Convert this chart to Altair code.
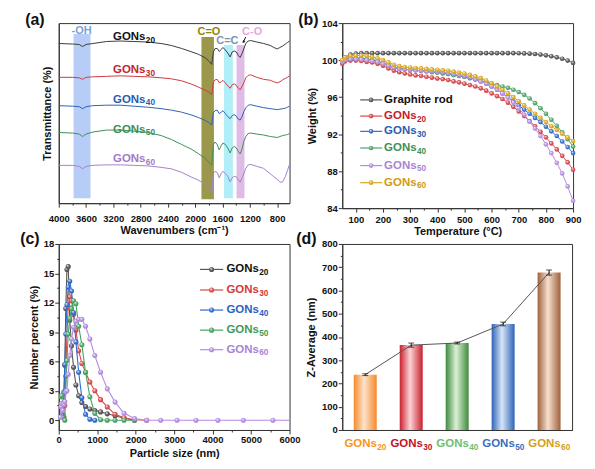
import altair as alt
import pandas as pd

FONT = "Liberation Sans"
INK = "#111111"

# ======================= (a) FTIR =======================
ftir_wn = [4000, 3800, 3700, 3650, 3600, 3500, 3300, 3100, 2900, 2700,
           2500, 2350, 2200, 2050, 1950, 1850, 1790, 1760, 1735, 1710,
           1680, 1650, 1620, 1595, 1560, 1525, 1490, 1460, 1430, 1400,
           1370, 1343, 1315, 1290, 1260, 1225, 1190, 1100, 1000, 900,
           850, 800, 760, 720, 680, 650, 620]
# offset transmittance (a.u., larger = lower on the plot)
ftir_g20 = [41.5, 42, 42.5, 44.5, 42.5, 41.5, 39.5, 39, 39.5, 40,
            41.5, 43.5, 46.5, 50, 52.5, 56, 60, 62.5, 50, 46.5,
            46.5, 49.5, 47.5, 45.5, 48, 51, 55, 50, 49, 50,
            53.5, 55.5, 51.5, 47, 41.5, 39, 38.5, 40, 41.5, 43.5,
            45.5, 47, 45.5, 44, 42, 40.5, 39]
ftir_g30 = [75.5, 75.5, 76, 77.5, 75.5, 75, 74.5, 74, 74.5, 75,
            76, 77, 79, 82.5, 85.5, 88.5, 91, 93, 80, 78,
            77.5, 81, 80, 78.5, 81, 84, 86.5, 83, 82, 83.5,
            86.5, 88, 84.5, 81, 76, 73.5, 73, 75.5, 77.5, 78.5,
            80, 81, 80, 78, 76.5, 75.5, 74]
ftir_g40 = [104, 104.5, 105, 107, 105, 104, 103.5, 103.5, 104.5, 105.5,
            107, 108.5, 110.5, 113.5, 116, 119, 121.5, 123.5, 111, 109,
            108.5, 112, 110.5, 109, 112, 115, 117, 114, 113, 114.5,
            117.5, 118.5, 115, 110, 106, 103.5, 103, 104.5, 106, 107,
            107.5, 108, 107.5, 107, 106.5, 105.5, 104.5]
ftir_g50 = [131, 131.5, 132.5, 135, 132.5, 130.5, 128.5, 128.5, 129.5, 131,
            134, 138, 143, 148, 152.5, 157, 162, 164, 143, 140.5,
            143, 148.5, 144, 141.5, 143, 146.5, 151.5, 146.5, 145, 146.5,
            150, 152.5, 147.5, 140, 135, 132, 131.5, 132.5, 133.5, 135,
            135.5, 136, 135, 134, 133.5, 133, 132]
ftir_g60 = [164, 164, 165, 167.5, 165, 164, 163.5, 163.5, 164, 164.5,
            166, 167.5, 171, 176, 179, 183, 188, 191.5, 172, 170,
            171, 176.5, 172, 170, 172, 175, 180.5, 176.5, 175, 175.5,
            178.5, 181, 176.5, 172.5, 167, 163.5, 163, 165, 167, 172.5,
            175.5, 178, 181, 180.5, 175, 169, 163]
ftir_names = ["GONs20", "GONs30", "GONs40", "GONs50", "GONs60"]
ftir_subs = ["20", "30", "40", "50", "60"]
ftir_colors = ["#3b3b3b", "#cf3a3f", "#2e62b5", "#3f9057", "#a581cc"]
ftir_text_colors = ["#111111", "#c0262e", "#2a5db0", "#3e9058", "#9f7bc9"]
ftir_label_y = [35, 68, 98, 128, 158]
ftir_label_wn = [2900, 2900, 2900, 2900, 2900]

band_names = ["-OH", "C=O", "C=C", "C-O"]
band_lo = [3535, 1727, 1450, 1280]
band_hi = [3782, 1910, 1580, 1396]
band_top = [32, 35, 43, 43]
band_bot = [197, 198, 197, 197]
band_fill = ["#aac3f4", "#8a862c", "#a3ebf7", "#d8b0e0"]
band_text_wn = [3665, 1800, 1530, 1168]
band_text_y = [28.5, 29.5, 38.5, 30]
band_text_color = ["#7d9fd8", "#8d8512", "#7e93ad", "#eaa6dc"]

# ======================= (b) TGA =======================
tga_temp = [50, 60, 80, 100, 120, 140, 160, 180, 200, 220, 240, 260, 280, 300,
            320, 340, 360, 380, 400, 420, 440, 460, 480, 500, 520, 540, 560, 580,
            600, 620, 640, 660, 680, 700, 720, 740, 760, 780, 800, 820, 840, 860,
            880, 900]
tga_graphite = [99.8, 100.3, 100.6, 100.7, 100.75, 100.75, 100.75, 100.75, 100.75, 100.75,
                100.75, 100.75, 100.75, 100.75, 100.75, 100.75, 100.75, 100.75, 100.75, 100.75,
                100.75, 100.75, 100.75, 100.75, 100.75, 100.75, 100.75, 100.75, 100.75, 100.75,
                100.75, 100.75, 100.75, 100.74, 100.72, 100.7, 100.66, 100.6, 100.52, 100.42,
                100.3, 100.15, 99.95, 99.7]
tga_g20 = [99.6, 99.85, 99.95, 99.95, 99.9, 99.8, 99.75, 99.6, 99.4, 99.1,
           98.85, 98.7, 98.55, 98.45, 98.35, 98.3, 98.2, 98.1, 98.0, 97.95,
           97.85, 97.7, 97.6, 97.45, 97.3, 97.15, 96.95, 96.7, 96.4, 96.1,
           95.8, 95.4, 94.95, 94.45, 93.95, 93.4, 92.85, 92.25, 91.65, 91.0,
           90.35, 89.65, 88.95, 88.15]
tga_g30 = [99.8, 100.0, 100.1, 100.15, 100.1, 100.05, 100.0, 99.85, 99.65, 99.4,
           99.2, 99.1, 99.0, 98.95, 98.9, 98.85, 98.8, 98.75, 98.7, 98.6,
           98.5, 98.4, 98.3, 98.2, 98.05, 97.9, 97.7, 97.45, 97.15, 96.8,
           96.4, 96.0, 95.55, 95.1, 94.65, 94.2, 93.75, 93.3, 92.8, 92.3,
           91.8, 91.2, 90.6, 89.95]
tga_g40 = [99.9, 100.1, 100.2, 100.25, 100.2, 100.15, 100.05, 99.9, 99.7, 99.45,
           99.25, 99.1, 99.0, 98.95, 98.9, 98.85, 98.8, 98.7, 98.65, 98.55,
           98.5, 98.4, 98.3, 98.2, 98.1, 97.95, 97.8, 97.6, 97.45, 97.3,
           97.15, 97.0, 96.8, 96.55, 96.25, 95.85, 95.35, 94.8, 94.2, 93.55,
           92.9, 92.2, 91.45, 90.65]
tga_g50 = [99.8, 100.0, 100.1, 100.1, 100.05, 100.0, 99.9, 99.8, 99.6, 99.4,
           99.2, 99.05, 99.0, 98.95, 98.9, 98.85, 98.8, 98.8, 98.75, 98.7,
           98.6, 98.5, 98.4, 98.3, 98.15, 97.95, 97.7, 97.45, 97.15, 96.8,
           96.4, 95.95, 95.4, 94.8, 94.1, 93.35, 92.6, 91.8, 90.9, 89.95,
           88.9, 87.75, 86.35, 84.8]
tga_g60 = [100.0, 100.3, 100.45, 100.5, 100.5, 100.45, 100.35, 100.2, 100.0, 99.75,
           99.5, 99.35, 99.25, 99.2, 99.15, 99.1, 99.05, 99.0, 98.95, 98.9,
           98.85, 98.75, 98.65, 98.55, 98.4, 98.25, 98.05, 97.8, 97.5, 97.15,
           96.8, 96.4, 96.0, 95.55, 95.1, 94.65, 94.2, 93.75, 93.3, 92.85,
           92.45, 92.05, 91.65, 91.25]
tga_names = ["Graphite rod", "GONs20", "GONs30", "GONs40", "GONs50", "GONs60"]
tga_subs = ["", "20", "30", "40", "50", "60"]
tga_colors = ["#555555", "#d6474a", "#2f6ccc", "#4fa36a", "#b58ce2", "#d7a51f"]
tga_text_colors = ["#111111", "#c8202a", "#2a5db0", "#3e9058", "#a984d6", "#d09a12"]
tga_leg_y = [95.7, 93.95, 92.3, 90.5, 88.6, 86.75]

# ======================= (c) DLS =======================
c20_x = [117, 136, 158, 183, 213, 247, 286, 332, 385, 447, 518, 601, 697, 809, 938, 1088, 1262, 1464, 1698, 1970]
c20_y = [0.5, 2.9, 5.6, 11.4, 15.4, 15.7, 10.2, 7.6, 5.4, 3.6, 2.5, 1.8, 1.4, 1.15, 1.0, 0.85, 0.65, 0.45, 0.2, 0.0]
c30_x = [136, 158, 183, 213, 247, 286, 332, 385, 447, 518, 601, 697, 809, 938, 1088, 1262, 1464, 1698, 1970, 2285]
c30_y = [0.3, 1.5, 4.5, 8.8, 11.6, 12.6, 12.2, 10.8, 9.2, 7.1, 5.8, 4.9, 3.9, 3.0, 2.1, 1.35, 0.6, 0.25, 0.05, 0.0]
c40_x = [117, 136, 158, 183, 213, 247, 286, 332, 385, 447, 518, 601, 697, 809, 938]
c40_y = [0.3, 2.8, 5.7, 8.8, 11.8, 13.6, 14.2, 13.2, 11.0, 8.0, 4.9, 2.3, 0.6, 0.1, 0.0]
c50_x = [41, 75, 158, 183, 213, 247, 286, 332, 385, 447, 518, 601, 697, 809, 938, 1088, 1262, 1464, 1698, 1970]
c50_y = [2.4, 2.5, 0.0, 3.0, 6.1, 8.8, 10.4, 11.4, 12.2, 11.9, 9.6, 7.7, 4.9, 2.4, 0.7, 0.05, 0.0, 0.0, 0.0, 0.0]
c60_x = [41, 56, 75, 101, 117, 136, 158, 183, 213, 247, 286, 332, 385, 447, 518, 601, 697, 809, 938, 1088,
         1262, 1464, 1698, 1970, 2285, 2651, 3075, 3567, 4138, 4800, 5568, 6460]
c60_y = [0.3, 1.4, 1.7, 1.0, 1.7, 1.6, 1.9, 2.9, 3.0, 4.7, 6.6, 8.3, 9.5, 10.1, 10.3, 10.3, 9.6, 8.3, 6.6, 4.9,
         3.2, 1.85, 0.7, 0.17, 0.0, 0.0, 0.0, 0.0, 0.0, 0.0, 0.0, 0.0]
dls_names = ["GONs20", "GONs30", "GONs40", "GONs50", "GONs60"]
dls_subs = ["20", "30", "40", "50", "60"]
dls_colors = ["#555555", "#d64a4a", "#2d6bd0", "#47a262", "#b48ae0"]
dls_text_colors = ["#111111", "#d23a3a", "#2a62c4", "#3e9a5a", "#a984d6"]
dls_leg_y = [15.4, 13.3, 11.25, 9.2, 7.2]

# ======================= (d) Z-average =======================
z_names = ["GONs20", "GONs30", "GONs40", "GONs50", "GONs60"]
z_subs = ["20", "30", "40", "50", "60"]
z_values = [238, 365, 374, 456, 677]
z_errors = [4, 9, 4, 8, 11]
z_edge = ["#f58a2a", "#c8202c", "#3d8a3b", "#2e64b8", "#a0603a"]
z_center = ["#fde3cc", "#fbd3d6", "#dcf0d6", "#d7e5f7", "#f6dfcf"]
z_label_colors = ["#f7941d", "#c1121f", "#6cc070", "#3a6fc0", "#d4a020"]

# Liberation Sans Bold advance widths (em) for "GONs" and digits
GONS_EM = 0.778 + 0.778 + 0.722 + 0.556
DIGIT_EM = 0.556


def sphere(col):
    return {"gradient": "radial", "x1": 0.35, "y1": 0.3, "r1": 0.0,
            "x2": 0.5, "y2": 0.5, "r2": 0.6,
            "stops": [{"offset": 0, "color": "#ffffff"},
                      {"offset": 0.55, "color": col},
                      {"offset": 1, "color": col}]}


def minor_size(test):
    return {"condition": {"test": test, "value": 2}, "value": 4}


def panel_label(txt, dx, dy):
    return alt.Chart(pd.DataFrame({"t": [txt]})).mark_text(
        font=FONT, fontSize=16, fontWeight="bold", color=INK,
        align="center", baseline="middle").encode(
        x=alt.value(dx), y=alt.value(dy), text="t:N")


def gons_layers(df, xenc, yenc, fs, centered):
    """'GONs' + subscript number, as two real text marks."""
    sfs = round(fs * 0.72, 1)
    w_base = GONS_EM * fs
    w_sub = 2 * DIGIT_EM * sfs
    start = -(w_base + w_sub) / 2 if centered else 0
    col = alt.Color("c:N", scale=None)
    base = alt.Chart(df).mark_text(font=FONT, fontSize=fs, fontWeight="bold", align="left",
                                   baseline="middle", dx=start).encode(
        x=xenc, y=yenc, text="base:N", color=col)
    sub = alt.Chart(df).mark_text(font=FONT, fontSize=sfs, fontWeight="bold", align="left",
                                  baseline="middle", dx=start + w_base + 0.4, dy=round(fs * 0.33, 1)).encode(
        x=xenc, y=yenc, text="sub:N", color=col)
    return [base, sub]


# ---------------- panel (a) ----------------
WA, HA = 232, 181
xa_scale = alt.Scale(domain=[620, 4000], reverse=True, nice=False, zero=False)
ya_scale = alt.Scale(domain=[21, 202], reverse=True, nice=False, zero=False)
xa_axis = alt.Axis(values=[4000, 3800, 3600, 3400, 3200, 3000, 2800, 2600, 2400, 2200, 2000,
                           1800, 1600, 1400, 1200, 1000, 800],
                   labelExpr="datum.value % 400 == 0 ? datum.label : ''",
                   tickSize=minor_size("datum.value % 400 != 0"),
                   format="d", title="Wavenumbers (cm⁻¹)", labelPadding=6, titlePadding=2)
ya_axis = alt.Axis(title="Transmittance (%)", labels=False, ticks=False, titlePadding=6)


def XA(f):
    return alt.X(f, type="quantitative", scale=xa_scale, axis=xa_axis)


def YA(f):
    return alt.Y(f, type="quantitative", scale=ya_scale, axis=ya_axis)


bands_df = pd.DataFrame({"name": band_names, "lo": band_lo, "hi": band_hi,
                         "top": band_top, "bot": band_bot, "fill": band_fill,
                         "tx": band_text_wn, "ty": band_text_y, "tc": band_text_color})
a_bands = alt.Chart(bands_df).mark_rect(opacity=0.85).encode(
    x=XA("lo"), x2="hi", y=YA("top"), y2="bot", color=alt.Color("fill:N", scale=None))
a_band_text = alt.Chart(bands_df).mark_text(font=FONT, fontSize=11, fontWeight="bold",
                                            align="center", baseline="middle").encode(
    x=XA("tx"), y=YA("ty"), text="name:N", color=alt.Color("tc:N", scale=None))

ftir_rows = []
for nm, vals in zip(ftir_names, [ftir_g20, ftir_g30, ftir_g40, ftir_g50, ftir_g60]):
    for w, v in zip(ftir_wn, vals):
        ftir_rows.append({"wn": w, "T": v, "s": nm})
a_lines = alt.Chart(pd.DataFrame(ftir_rows)).mark_line(strokeWidth=1).encode(
    x=XA("wn"), y=YA("T"),
    color=alt.Color("s:N", scale=alt.Scale(domain=ftir_names, range=ftir_colors), legend=None))
a_lab_df = pd.DataFrame({"base": ["GONs"] * 5, "sub": ftir_subs, "x": ftir_label_wn,
                         "y": ftir_label_y, "c": ftir_text_colors})
a_labels = gons_layers(a_lab_df, XA("x"), YA("y"), 11.5, True)
arrow_df = pd.DataFrame({"x1": [1262], "x2": [1296], "y1": [35], "y2": [40]})
a_arrow = alt.Chart(arrow_df).mark_rule(color=INK, strokeWidth=1).encode(
    x=XA("x1"), x2="x2", y=YA("y1"), y2="y2")
a_arrow_head = alt.Chart(arrow_df).mark_point(shape="triangle-down", filled=True, size=10,
                                              color=INK, opacity=1, angle=40).encode(
    x=XA("x2"), y=YA("y2"))

pa = alt.layer(a_bands, a_lines, a_band_text, *a_labels, a_arrow, a_arrow_head,
               panel_label("(a)", -24, -3)).properties(width=WA, height=HA)

# ---------------- panel (b) ----------------
WB, HB = 232, 186
xb_scale = alt.Scale(domain=[50, 900], nice=False, zero=False)
yb_scale = alt.Scale(domain=[84, 104], nice=False, zero=False)
xb_axis = alt.Axis(values=[100, 150, 200, 250, 300, 350, 400, 450, 500, 550, 600, 650, 700, 750, 800, 850, 900],
                   labelExpr="datum.value % 100 == 0 ? datum.label : ''",
                   tickSize=minor_size("datum.value % 100 != 0"),
                   title="Temperature (°C)", labelPadding=2, titlePadding=2)
yb_axis = alt.Axis(values=[84, 86, 88, 90, 92, 94, 96, 98, 100, 102, 104],
                   labelExpr="datum.value % 4 == 0 ? datum.label : ''",
                   tickSize=minor_size("datum.value % 4 != 0"),
                   title="Weight  (%)", labelPadding=1, titlePadding=4)


def XB(f):
    return alt.X(f, type="quantitative", scale=xb_scale, axis=xb_axis)


def YB(f):
    return alt.Y(f, type="quantitative", scale=yb_scale, axis=yb_axis)


b_layers = []
for nm, vals, col in zip(tga_names, [tga_graphite, tga_g20, tga_g30, tga_g40, tga_g50, tga_g60], tga_colors):
    d = pd.DataFrame({"t": tga_temp, "w": vals})
    b_layers.append(alt.Chart(d).mark_line(color=col, strokeWidth=1).encode(x=XB("t"), y=YB("w")))
    b_layers.append(alt.Chart(d).mark_circle(size=22, fill=sphere(col), opacity=1).encode(x=XB("t"), y=YB("w")))

for nm, yy, col in zip(tga_names, tga_leg_y, tga_colors):
    d = pd.DataFrame({"x1": [116], "x2": [197], "xm": [156], "y": [yy]})
    b_layers.append(alt.Chart(d).mark_rule(color=col, strokeWidth=1.2).encode(x=XB("x1"), x2="x2", y=YB("y")))
    b_layers.append(alt.Chart(d).mark_circle(size=22, fill=sphere(col), opacity=1).encode(x=XB("xm"), y=YB("y")))
b_gr = pd.DataFrame({"xt": [204], "y": [tga_leg_y[0]], "n": [tga_names[0]]})
b_layers.append(alt.Chart(b_gr).mark_text(font=FONT, fontSize=11.5, fontWeight="bold", align="left",
                                          baseline="middle", color=tga_text_colors[0]).encode(
    x=XB("xt"), y=YB("y"), text="n:N"))
b_leg_df = pd.DataFrame({"base": ["GONs"] * 5, "sub": tga_subs[1:], "xt": [204] * 5,
                         "y": tga_leg_y[1:], "c": tga_text_colors[1:]})
b_layers += gons_layers(b_leg_df, XB("xt"), YB("y"), 11.5, False)
b_layers.append(panel_label("(b)", -34, -3))
pb = alt.layer(*b_layers).properties(width=WB, height=HB)

# ---------------- panel (c) ----------------
WC, HC = 232, 187
xc_scale = alt.Scale(domain=[0, 6000], nice=False, zero=False)
yc_scale = alt.Scale(domain=[-1, 18], nice=False, zero=False)
xc_axis = alt.Axis(values=[0, 500, 1000, 1500, 2000, 2500, 3000, 3500, 4000, 4500, 5000, 5500, 6000],
                   labelExpr="datum.value % 1000 == 0 ? datum.label : ''",
                   tickSize=minor_size("datum.value % 1000 != 0"),
                   format="d", title="Particle size (nm)", labelPadding=1, titlePadding=3)
yc_axis = alt.Axis(values=[0, 1.5, 3, 4.5, 6, 7.5, 9, 10.5, 12, 13.5, 15, 16.5, 18],
                   labelExpr="datum.value % 3 == 0 ? datum.label : ''",
                   tickSize=minor_size("datum.value % 3 != 0"),
                   title="Number percent (%)", labelPadding=1, titlePadding=4)


def XC(f):
    return alt.X(f, type="quantitative", scale=xc_scale, axis=xc_axis)


def YC(f):
    return alt.Y(f, type="quantitative", scale=yc_scale, axis=yc_axis)


c_layers = []
for nm, xs, ys, col in zip(dls_names, [c20_x, c30_x, c40_x, c50_x, c60_x],
                           [c20_y, c30_y, c40_y, c50_y, c60_y], dls_colors):
    d = pd.DataFrame({"x": xs, "y": ys})
    c_layers.append(alt.Chart(d).mark_line(color=col, strokeWidth=1.1, clip=True).encode(x=XC("x"), y=YC("y")))
    c_layers.append(alt.Chart(d).mark_circle(size=26, fill=sphere(col), opacity=1, clip=True).encode(
        x=XC("x"), y=YC("y")))
for nm, yy, col in zip(dls_names, dls_leg_y, dls_colors):
    d = pd.DataFrame({"x1": [3672], "x2": [4275], "xm": [3974], "y": [yy]})
    c_layers.append(alt.Chart(d).mark_rule(color=col, strokeWidth=1.2).encode(x=XC("x1"), x2="x2", y=YC("y")))
    c_layers.append(alt.Chart(d).mark_circle(size=26, fill=sphere(col), opacity=1).encode(x=XC("xm"), y=YC("y")))
c_leg_df = pd.DataFrame({"base": ["GONs"] * 5, "sub": dls_subs, "xt": [4360] * 5,
                         "y": dls_leg_y, "c": dls_text_colors})
c_layers += gons_layers(c_leg_df, XC("xt"), YC("y"), 11.5, False)
c_layers.append(panel_label("(c)", -29, -5))
pc = alt.layer(*c_layers).properties(width=WC, height=HC)

# ---------------- panel (d) ----------------
WD, HD = 231, 187
xd_scale = alt.Scale(domain=z_names, paddingInner=0.5, paddingOuter=0.25)
yd_scale = alt.Scale(domain=[0, 800], nice=False, zero=True)
xd_axis = alt.Axis(title=None, labels=False, ticks=False)
yd_axis = alt.Axis(values=[0, 50, 100, 150, 200, 250, 300, 350, 400, 450, 500, 550, 600, 650, 700, 750, 800],
                   labelExpr="datum.value % 100 == 0 ? datum.label : ''",
                   tickSize=minor_size("datum.value % 100 != 0"),
                   title="Z-Average (nm)", labelPadding=1, titlePadding=5)


def XD(f):
    return alt.X(f, type="nominal", scale=xd_scale, axis=xd_axis, sort=z_names)


def YD(f):
    return alt.Y(f, type="quantitative", scale=yd_scale, axis=yd_axis)


z_df = pd.DataFrame({"n": z_names, "v": z_values, "e": z_errors,
                     "lo": [v - e for v, e in zip(z_values, z_errors)],
                     "hi": [v + e for v, e in zip(z_values, z_errors)],
                     "base": ["GONs"] * 5, "sub": z_subs, "c": z_label_colors})
d_layers = []
for nm, v, ce, cc in zip(z_names, z_values, z_edge, z_center):
    grad = {"gradient": "linear", "x1": 0, "y1": 0, "x2": 1, "y2": 0,
            "stops": [{"offset": 0, "color": ce}, {"offset": 0.45, "color": cc}, {"offset": 1, "color": ce}]}
    d = pd.DataFrame({"n": [nm], "v": [v]})
    d_layers.append(alt.Chart(d).mark_bar(fill=grad, opacity=1).encode(x=XD("n"), y=YD("v")))
d_layers.append(alt.Chart(z_df).mark_line(color="#555555", strokeWidth=1).encode(x=XD("n"), y=YD("v")))
d_layers.append(alt.Chart(z_df).mark_rule(color=INK, strokeWidth=1).encode(x=XD("n"), y=YD("lo"), y2="hi"))
d_layers.append(alt.Chart(z_df).mark_tick(color=INK, thickness=1, size=6).encode(x=XD("n"), y=YD("lo")))
d_layers.append(alt.Chart(z_df).mark_tick(color=INK, thickness=1, size=6).encode(x=XD("n"), y=YD("hi")))
d_layers += gons_layers(z_df, XD("n"), alt.value(HD + 14), 11.5, True)
d_layers.append(panel_label("(d)", -36, -5))
pdd = alt.layer(*d_layers).properties(width=WD, height=HD)

chart = alt.concat(pa, pb, pc, pdd, columns=2, spacing={"row": 36, "column": 53}, bounds="flush",
                   padding={"left": 11, "top": 2, "right": 5, "bottom": 5})
chart = chart.configure_view(stroke="#333333", strokeWidth=1).configure_axis(
    labelFont=FONT, labelFontSize=9.5, labelFontWeight="bold", labelColor=INK, labelOverlap=False,
    labelFlush=False,
    titleFont=FONT, titleFontSize=11, titleFontWeight="bold", titleColor=INK,
    domainColor="#333333", tickColor="#333333", tickSize=4, grid=False)

chart.save("out.html", embed_options={"renderer": "svg", "actions": False})
